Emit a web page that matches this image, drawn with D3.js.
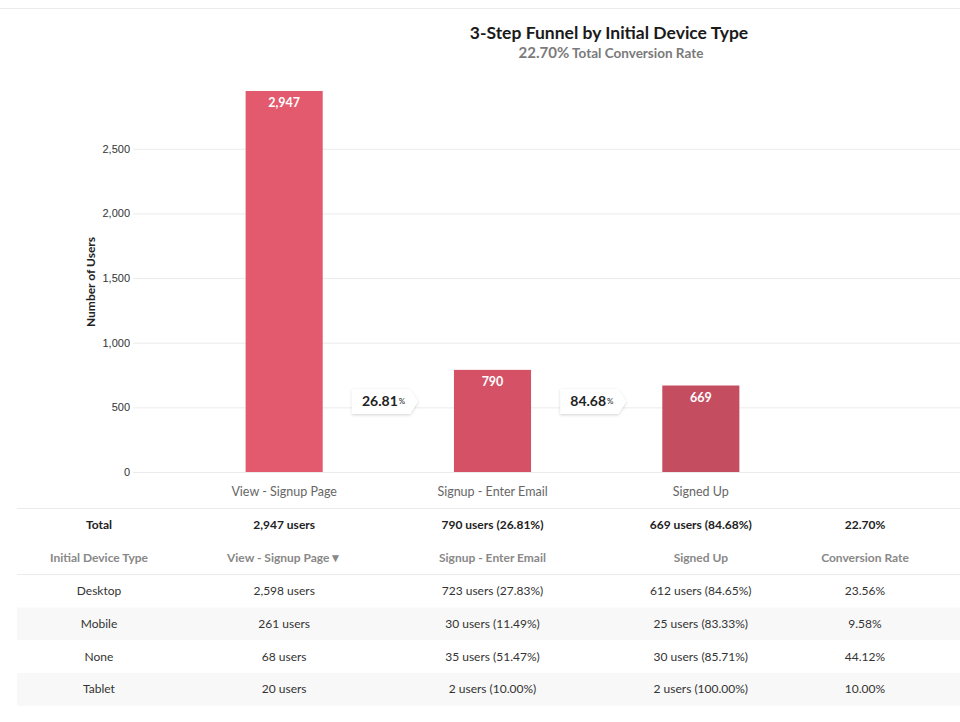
<!DOCTYPE html>
<html><head><meta charset="utf-8">
<script src="https://cdn.jsdelivr.net/npm/d3@7"></script>
<style>
body{margin:0;background:#fff;font-family:Lato,"Open Sans",sans-serif;}
</style></head>
<body><svg id="c" width="960" height="722"></svg>
<script>
const steps = ["View - Signup Page","Signup - Enter Email","Signed Up"];
const totals = [2947, 790, 669];
const stepRates = ["26.81","84.68"];
const barColors = ["#e35a6e","#d55266","#c44d5f"];
const yTicks = [0,500,1000,1500,2000,2500];
const totalConv = "22.70%";
const tableHeader = ["Initial Device Type","View - Signup Page\u25BC","Signup - Enter Email","Signed Up","Conversion Rate"];
const totalRow = ["Total","2,947 users","790 users (26.81%)","669 users (84.68%)","22.70%"];
const devices = ["Desktop","Mobile","None","Tablet"];
const step1 = [2598, 261, 68, 20];
const step2 = [723, 30, 35, 2];
const step2Pct = ["27.83%","11.49%","51.47%","10.00%"];
const step3 = [612, 25, 30, 2];
const step3Pct = ["84.65%","83.33%","85.71%","100.00%"];
const convRate = ["23.56%","9.58%","44.12%","10.00%"];

const svg = d3.select("#c");
const fmt = d3.format(",");

svg.append("line").attr("x1",0).attr("x2",960).attr("y1",8.5).attr("y2",8.5).attr("stroke","#ececec");

svg.append("text").attr("x",609).attr("y",39).attr("text-anchor","middle")
  .attr("font-size",17.5).attr("font-weight",700).attr("fill","#1a1a1a").text("3-Step Funnel by Initial Device Type");
const sub = svg.append("text").attr("x",611).attr("y",58).attr("text-anchor","middle").attr("font-weight",700).attr("fill","#7a7a7a");
sub.append("tspan").attr("font-size",15).text(totalConv);
sub.append("tspan").attr("font-size",13.5).text(" Total Conversion Rate");

const y = d3.scaleLinear().domain([0,2947]).range([472,91]);
const x = d3.scaleBand().domain(steps).range([180,805]).paddingInner(0.63).paddingOuter(0.315);

const yAxis = d3.axisLeft(y).tickValues(yTicks).tickSize(-827).tickFormat(fmt).tickPadding(6);
const ga = svg.append("g").attr("transform","translate(133,0)").call(yAxis);
ga.select(".domain").remove();
ga.selectAll(".tick line").attr("stroke","#ebebeb");
ga.selectAll(".tick text").attr("font-size",11).attr("fill","#333").attr("x",-3);

svg.append("text").attr("transform","translate(95,282) rotate(-90)").attr("text-anchor","middle")
  .attr("font-size",12).attr("font-weight",700).attr("fill","#222").text("Number of Users");

svg.selectAll(".bar").data(steps).enter().append("rect")
  .attr("x",d=>x(d)).attr("width",x.bandwidth())
  .attr("y",(d,i)=>y(totals[i])).attr("height",(d,i)=>y(0)-y(totals[i]))
  .attr("fill",(d,i)=>barColors[i]);
svg.selectAll(".bl").data(steps).enter().append("text")
  .attr("x",d=>x(d)+x.bandwidth()/2).attr("y",(d,i)=>y(totals[i])+16)
  .attr("text-anchor","middle").attr("font-size",12.5).attr("font-weight",700).attr("fill","#fff")
  .text((d,i)=>fmt(totals[i]));

svg.selectAll(".xl").data(steps).enter().append("text")
  .attr("x",d=>x(d)+x.bandwidth()/2).attr("y",496).attr("text-anchor","middle")
  .attr("font-size",12.5).attr("fill","#666").text(d=>d);

const defs = svg.append("defs");
const f = defs.append("filter").attr("id","sh").attr("x","-20%").attr("y","-30%").attr("width","140%").attr("height","160%");
f.append("feDropShadow").attr("dx",0).attr("dy",1).attr("stdDeviation",1.5).attr("flood-color","#000").attr("flood-opacity",0.18);
stepRates.forEach((r,i)=>{
  const bx = x(steps[i+1]) - 102, by = 389, w = 58, h = 25;
  const g = svg.append("g");
  g.append("path").attr("d",`M${bx},${by}H${bx+w}L${bx+w+8},${by+h/2}L${bx+w},${by+h}H${bx}Z`)
    .attr("fill","#fff").attr("filter","url(#sh)");
  const t = g.append("text").attr("x",bx+10).attr("y",by+17).attr("fill","#222");
  t.append("tspan").attr("font-size",14).attr("font-weight",700).text(r);
  t.append("tspan").attr("font-size",8).attr("dx",1).attr("dy",-2).text("%");
});

const colX = [99, x(steps[0])+x.bandwidth()/2, x(steps[1])+x.bandwidth()/2, x(steps[2])+x.bandwidth()/2, 865];
const rowH = 32.8;
svg.append("line").attr("x1",17).attr("x2",960).attr("y1",508.5).attr("y2",508.5).attr("stroke","#ebebeb");
svg.append("line").attr("x1",17).attr("x2",960).attr("y1",574.5).attr("y2",574.5).attr("stroke","#ebebeb");
const addRow = (vals, cy, opts) => {
  vals.forEach((v,j)=>{
    svg.append("text").attr("x",colX[j]).attr("y",cy+4).attr("text-anchor","middle")
      .attr("font-size",12).attr("font-weight",opts.bold?700:400).attr("fill",opts.color).text(v);
  });
};
addRow(totalRow, 525, {bold:true, color:"#222"});
addRow(tableHeader, 558, {bold:true, color:"#888"});
devices.forEach((d,i)=>{
  const cy = 591 + i*rowH;
  if (i%2===1) svg.append("rect").attr("x",17).attr("y",cy-rowH/2).attr("width",943).attr("height",rowH).attr("fill","#f8f8f8");
  addRow([d, fmt(step1[i])+" users", fmt(step2[i])+" users ("+step2Pct[i]+")", fmt(step3[i])+" users ("+step3Pct[i]+")", convRate[i]], cy, {bold:false, color:"#333"});
});
</script></body></html>
